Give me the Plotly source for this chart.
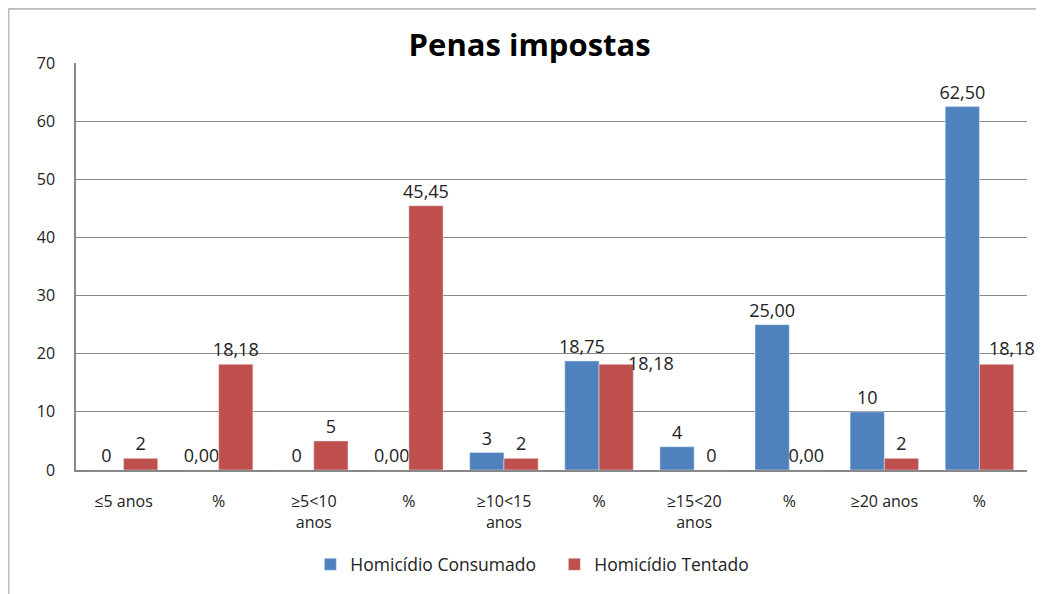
import plotly.graph_objects as go

categories = ["≤5 anos", "%", "≥5<10<br>anos", "%", "≥10<15<br>anos", "%",
              "≥15<20<br>anos", "%", "≥20 anos", "%"]
is_percent = [False, True, False, True, False, True, False, True, False, True]
consumado = [0, 0.00, 0, 0.00, 3, 18.75, 4, 25.00, 10, 62.50]
tentado = [2, 18.18, 5, 45.45, 2, 18.18, 0, 0.00, 2, 18.18]
y_ticks = [0, 10, 20, 30, 40, 50, 60, 70]
# labels Excel nudged sideways to avoid overlaps: index -> (xshift px, yshift px)
tentado_label_nudge = {5: (35, -15), 9: (15, 0)}


def fmt(vals):
    return [f"{v:.2f}".replace(".", ",") if p else str(int(v)) for v, p in zip(vals, is_percent)]


xs = list(range(len(categories)))
font = "Open Sans, Liberation Sans, sans-serif"
LABEL_SIZE = 18

W, H = 1036, 586
ML, MR, MT, MB = 68, 17, 55, 122
PW, PH = W - ML - MR, H - MT - MB
BARGAP = 0.28

tentado_text = fmt(tentado)
tentado_trace_text = [("" if i in tentado_label_nudge else t) for i, t in enumerate(tentado_text)]

fig = go.Figure()
fig.add_trace(go.Bar(name="Homicídio Consumado", x=xs, y=consumado, text=fmt(consumado),
                     textposition="outside", cliponaxis=False, marker_color="#4F81BD",
                     constraintext="none", textfont=dict(size=LABEL_SIZE, color="#222")))
fig.add_trace(go.Bar(name="Homicídio Tentado", x=xs, y=tentado, text=tentado_trace_text,
                     textposition="outside", cliponaxis=False, marker_color="#C0504D",
                     constraintext="none", textfont=dict(size=LABEL_SIZE, color="#222")))

bar_w = (1 - BARGAP) / 2
for i, (dx, dy) in tentado_label_nudge.items():
    fig.add_annotation(x=xs[i] + bar_w / 2, y=tentado[i], text=tentado_text[i], showarrow=False,
                       xanchor="center", yanchor="bottom", xshift=dx, yshift=2 + dy,
                       font=dict(size=LABEL_SIZE, color="#222", family=font))

fig.update_layout(
    width=W, height=H,
    margin=dict(l=ML, r=MR, t=MT, b=MB),
    paper_bgcolor="white", plot_bgcolor="white",
    barmode="group", bargap=BARGAP, bargroupgap=0,
    font=dict(family=font, size=16, color="#222"),
    title=dict(text="<b>Penas impostas</b>", x=0.477, xanchor="center", y=(H - 37) / H, yanchor="middle",
               xref="paper", yref="container", font=dict(size=31, color="black", family=font)),
    legend=dict(orientation="h", x=0.503, xanchor="center", y=-0.232, yanchor="middle",
                font=dict(size=17.5, color="#222"), itemwidth=30, traceorder="normal",
                entrywidth=199, entrywidthmode="pixels"),
)
fig.update_xaxes(tickmode="array", tickvals=xs, ticktext=categories, range=[-0.5, 9.5],
                 showline=True, linecolor="#888", linewidth=1.5, ticks="", ticklabelstandoff=16,
                 tickfont=dict(size=16, color="#222"), showgrid=False, zeroline=False)
fig.update_yaxes(range=[0, 70], tickmode="array", tickvals=y_ticks, showline=True, linecolor="#888",
                 linewidth=1.5, gridcolor="#888", gridwidth=1.2, ticks="", ticklabelstandoff=16,
                 tickfont=dict(size=16, color="#222"), zeroline=False)

# chart frame (Excel chart border)
x_left = (0.5 - ML) / PW
x_right = (W - ML) / PW
y_top = (H - MB - 0.5) / PH
y_bot = (H - MB - H - 10) / PH
fig.add_shape(type="line", xref="paper", yref="paper", x0=x_left, x1=x_right,
              y0=y_top, y1=y_top, line=dict(color="#bbb", width=2))
fig.add_shape(type="line", xref="paper", yref="paper", x0=x_left, x1=x_left,
              y0=y_top, y1=y_bot, line=dict(color="#bbb", width=2))

fig.write_html("out.html")
